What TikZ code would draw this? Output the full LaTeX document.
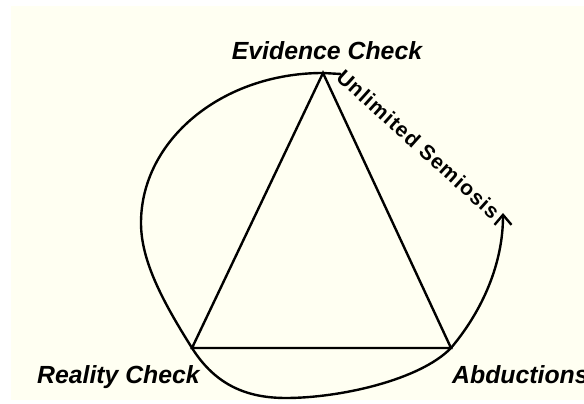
\documentclass[tikz,border=0pt]{standalone}
\usepackage{fontspec}
\setmainfont{Liberation Sans}
\usetikzlibrary{arrows.meta,positioning}
\definecolor{paper}{RGB}{255,255,242}

\begin{document}
\begin{tikzpicture}[
  x=1pt, y=1pt,
  lbl/.style={font=\fontsize{24.8}{26}\selectfont\bfseries\itshape, inner sep=0pt},
  semi/.style={font=\fontsize{21}{23}\selectfont\bfseries\addfontfeature{LetterSpace=5}, inner sep=0pt},
  edge/.style={line width=2.4pt, line join=miter},
  loop/.style={line width=2.4pt, -{Straight Barb[length=10pt,width=17pt]}}
]
  \useasboundingbox (0,0) rectangle (584,404);
  \fill[paper] (11,4) rectangle (584,398);

  % triangle corners
  \coordinate (evid) at (323,331);
  \coordinate (real) at (192,56);
  \coordinate (abd) at (451,56);
  % points of the loop
  \coordinate (tail) at (341,330);
  \coordinate (west) at (141,181);
  \coordinate (low) at (286,6);
  \coordinate (tip) at (503,191);

  \draw[edge] (evid) -- (real) -- (abd) -- cycle;
  \draw[loop] (tail) -- (evid) .. controls (222,331) and (141,264) .. (west)
    .. controls (141,143) and (163,102) .. (real)
    .. controls (216,18) and (248,6) .. (low)
    .. controls (340,6) and (420,24) .. (abd)
    .. controls (483,94) and (503,141) .. (tip);

  \node[lbl, above=13pt of evid, xshift=4pt] (evidlbl) {Evidence Check};
  \node[lbl, below left=17pt and -8pt of real] (reallbl) {Reality Check};
  \node[lbl, below right=17pt and 1pt of abd] (abdlbl) {Abductions};
  \node[semi, rotate=-42, anchor=base west] (semiosis) at (335,325) {Unlimited Semiosis};
\end{tikzpicture}
\end{document}
